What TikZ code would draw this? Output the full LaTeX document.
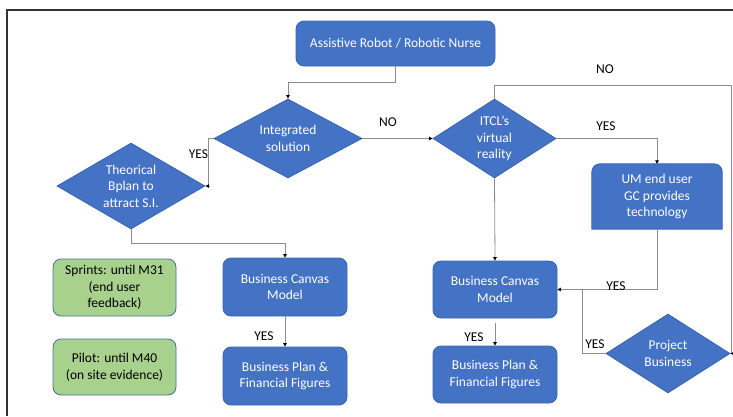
\documentclass[tikz,border=0pt]{standalone}
\usepackage{fontspec}
\setmainfont{Carlito}
\usetikzlibrary{shapes.geometric,arrows.meta,calc}
\definecolor{boxblue}{HTML}{4472C4}
\definecolor{boxedge}{HTML}{3A64B0}
\definecolor{boxgreen}{HTML}{A9D18E}
\definecolor{greenedge}{HTML}{41719C}
\definecolor{linegray}{HTML}{8C8C8C}
\definecolor{framegray}{HTML}{333333}
\begin{document}
\begin{tikzpicture}[x=1pt,y=-1pt,
  font=\fontsize{13.5}{16.5}\selectfont,
  bluebox/.style={rectangle,rounded corners=8pt,draw=boxedge,fill=boxblue,line width=0.8pt,
    text=white,align=center,inner sep=0pt},
  greenbox/.style={rectangle,rounded corners=8pt,draw=greenedge,fill=boxgreen,line width=0.8pt,
    text=black,align=center,inner sep=0pt},
  decision/.style={diamond,draw=boxedge,fill=boxblue,line width=0.8pt,inner sep=0pt},
  dtext/.style={text=white,align=center,inner sep=0pt},
  conn/.style={draw=linegray,line width=0.8pt,-{Triangle[length=3.5pt,width=3.5pt,black]}},
  plain/.style={draw=linegray,line width=0.8pt},
  lbl/.style={text=black,inner sep=0pt}]
\useasboundingbox (0,0) rectangle (733,416);

% outer frame (top and left edges)
\draw[framegray,line width=1.4pt] (7,416) -- (7,10) -- (733,10);

% process boxes
\node[bluebox,minimum width=199pt,minimum height=45pt] (top) at (395.5,43.5) {Assistive Robot / Robotic Nurse};
\node[bluebox,minimum width=124pt,minimum height=58pt] (bcmL) at (285,287) {Business Canvas\\Model};
\node[bluebox,minimum width=124pt,minimum height=58pt] (bpL) at (285,376) {Business Plan \&\\Financial Figures};
\node[bluebox,minimum width=124pt,minimum height=57pt] (bcmR) at (495,289.5) {Business Canvas\\Model};
\node[bluebox,minimum width=124pt,minimum height=57pt] (bpR) at (495,374.5) {Business Plan \&\\Financial Figures};
\node[greenbox,minimum width=123pt,minimum height=57pt] (sprint) at (114.5,287.5) {Sprints: until M31\\(end user\\feedback)};
\node[greenbox,minimum width=123pt,minimum height=56pt] (pilot) at (114.5,367) {Pilot: until M40\\(on site evidence)};

% box with rounded top corners only
\node[rectangle,minimum width=130pt,minimum height=65pt,inner sep=0pt] (um) at (657,196.5) {};
\draw[draw=boxedge,fill=boxblue,line width=0.8pt]
  (um.south west) -- ([yshift=-8pt]um.north west) arc[start angle=180,end angle=90,radius=8pt]
  -- ([xshift=-8pt]um.north east) arc[start angle=90,end angle=0,radius=8pt]
  -- (um.south east) -- cycle;
\node[dtext] (umt) at (um.center) {UM end user\\GC provides\\technology};

% decisions
\node[decision,minimum width=148pt,minimum height=79pt] (integ) at (288,138.5) {};
\node[dtext] (integt) at (integ.center) {Integrated\\solution};
\node[decision,minimum width=148pt,minimum height=86pt] (theor) at (131,186) {};
\node[dtext] (theort) at (theor.center) {Theorical\\Bplan to\\attract S.I.};
\node[decision,minimum width=123pt,minimum height=79pt] (itcl) at (494.5,138.5) {};
\node[dtext] (itclt) at (itcl.center) {ITCL’s\\virtual\\reality};
\node[decision,minimum width=124pt,minimum height=79pt] (proj) at (668,353.5) {};
\node[dtext] (projt) at (proj.center) {Project\\Business};

% connectors
\draw[conn] (top.south) -- ++(0,16) -| (integ.north);
\draw[conn] (integ.west) -- ++(-5,0) |- (theor.east);
\draw[conn] (theor.south) -- ++(0,14) -| (bcmL.north);
\draw[conn] (bcmL.south) -- (bpL.north);
\draw[conn] (integ.east) -- (itcl.west);
\draw[conn] (itcl.east) -| (um.north);
\coordinate (loop) at (731,85);
\draw[conn] (itcl.north) |- (loop) |- (proj.east);
\draw[conn] (itcl.south) -- (bcmR.north);
\draw[conn] (um.south) |- (bcmR.east);
\draw[plain] (proj.west) -| ($(bcmR.east)+(25,0)$);
\draw[conn] ($(bcmR.south)+(0,5)$) -- (bpR.north);

% connector labels
\node[lbl] (l1) at (198.5,154) {YES};
\node[lbl] (l2) at (388,122) {NO};
\node[lbl] (l3) at (606,126) {YES};
\node[lbl] (l4) at (616,286) {YES};
\node[lbl] (l5) at (605,69) {NO};
\node[lbl] (l6) at (264,336) {YES};
\node[lbl] (l7) at (474,337) {YES};
\node[lbl] (l8) at (595,344) {YES};
\end{tikzpicture}
\end{document}
